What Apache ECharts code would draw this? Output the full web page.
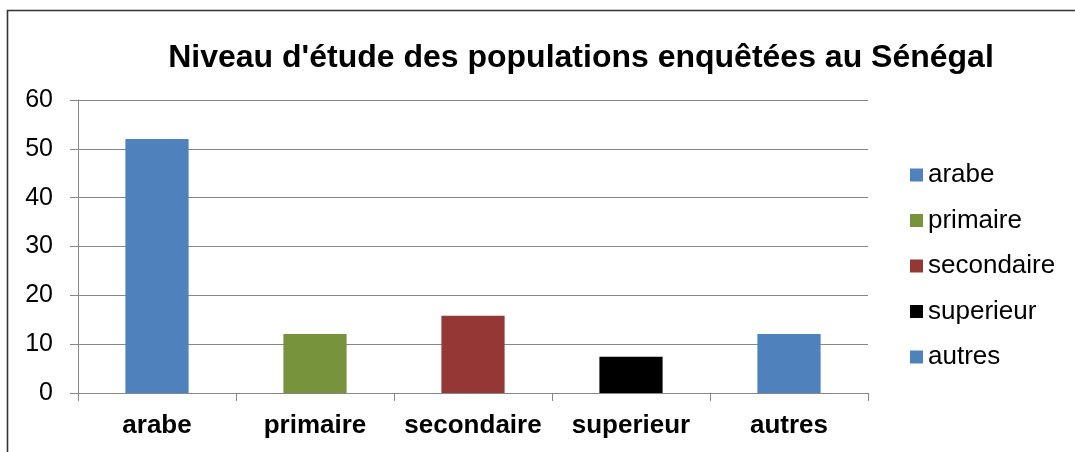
<!DOCTYPE html>
<html>
<head>
<meta charset="utf-8">
<title>Niveau d'étude</title>
<script src="https://cdn.jsdelivr.net/npm/echarts@6/dist/echarts.min.js"></script>
<style>
  html, body { margin: 0; padding: 0; background: #fff; }
  #chart { width: 1075px; height: 452px; }
</style>
</head>
<body>
<div id="chart"></div>
<script>
// Education levels and their shares (%)
const categories = ['arabe', 'primaire', 'secondaire', 'superieur', 'autres'];
const values = [52, 12.1, 15.8, 7.4, 12.1];
const colors = ['#4F81BD', '#77933C', '#953735', '#000000', '#4F81BD'];
const yTicks = [0, 10, 20, 30, 40, 50, 60];

const FONT = '"Liberation Sans", Arial, sans-serif';

// One series per level so each gets its own legend entry; stacking keeps
// every bar centred on its category.
const series = categories.map((name, i) => ({
  name: name,
  type: 'bar',
  stack: 'levels',
  barWidth: '40%',
  itemStyle: { color: colors[i] },
  data: categories.map((c, j) => (j === i ? values[i] : '-'))
}));

const chart = echarts.init(document.getElementById('chart'), null, { renderer: 'canvas' });
chart.setOption({
  animation: false,
  backgroundColor: '#ffffff',
  title: {
    text: "Niveau d'étude des populations enquêtées au Sénégal",
    left: 581,
    top: 42,
    padding: 0,
    textAlign: 'center',
    textStyle: { fontFamily: FONT, fontSize: 32, fontWeight: 'bold', color: '#000' }
  },
  legend: {
    orient: 'vertical',
    left: 910,
    top: 162,
    padding: 0,
    itemWidth: 13,
    itemHeight: 13,
    itemGap: 19.5,
    icon: 'rect',
    data: categories,
    textStyle: { fontFamily: FONT, fontSize: 26, lineHeight: 25, color: '#000' }
  },
  grid: { left: 78, right: 207, top: 100, bottom: 59, containLabel: false },
  xAxis: {
    type: 'category',
    data: categories,
    axisLine: { lineStyle: { color: '#868686', width: 1 } },
    axisTick: { show: true, length: 8, lineStyle: { color: '#868686' } },
    axisLabel: { interval: 0, margin: 20, fontFamily: FONT, fontSize: 26, fontWeight: 'bold', color: '#000' }
  },
  yAxis: {
    type: 'value',
    min: yTicks[0],
    max: yTicks[yTicks.length - 1],
    interval: yTicks[1] - yTicks[0],
    axisLine: { show: true, lineStyle: { color: '#868686', width: 1 } },
    axisTick: { show: true, length: 8, lineStyle: { color: '#868686' } },
    splitLine: { show: true, lineStyle: { color: '#868686', width: 1 } },
    axisLabel: { margin: 25, fontFamily: FONT, fontSize: 25, color: '#000' }
  },
  series: series,
  graphic: [
    {
      type: 'polyline',
      silent: true,
      shape: { points: [[7.5, 452], [7.5, 10.5], [1075, 10.5]] },
      style: { stroke: '#333333', lineWidth: 1.6, fill: null }
    }
  ]
});
</script>
</body>
</html>
